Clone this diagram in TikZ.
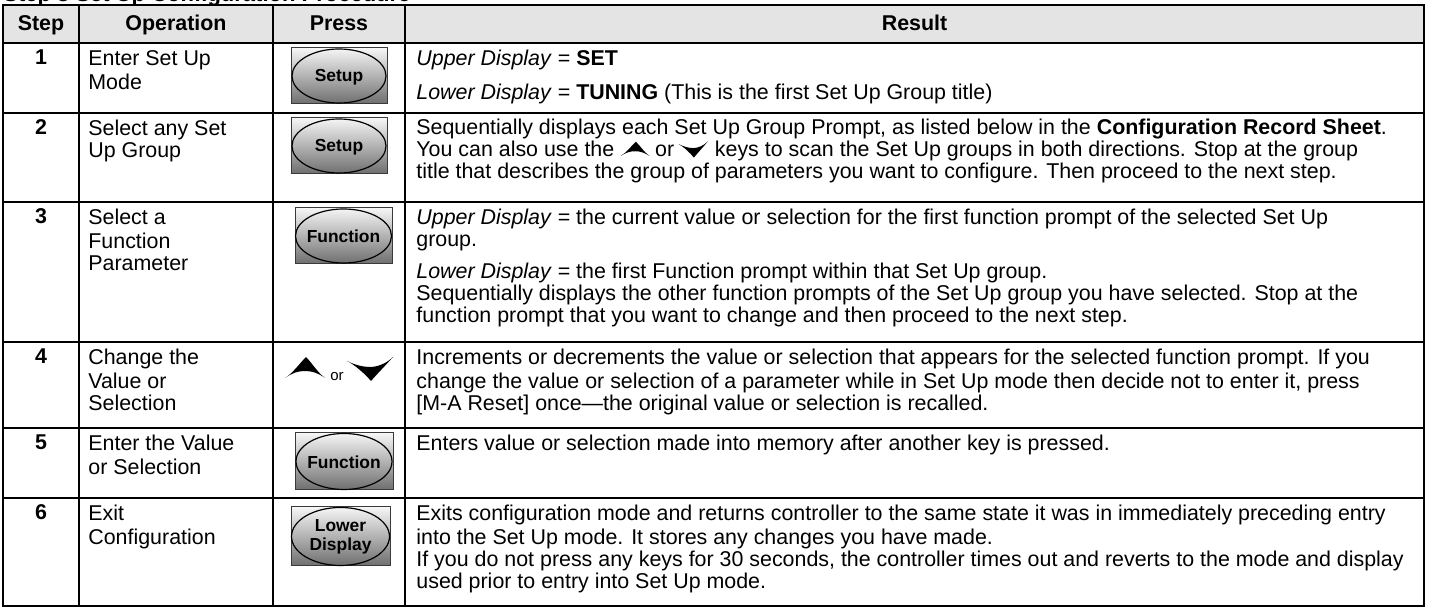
\documentclass[tikz,border=0pt]{standalone}
\usepackage{fontspec}
\setmainfont{Liberation Sans}
\usetikzlibrary{calc}
\definecolor{hdrgray}{HTML}{E4E4E4}
\definecolor{btntop}{HTML}{F6F6F6}
\definecolor{btnbot}{HTML}{6E6E6E}
\definecolor{btnedge}{HTML}{3A3A3A}
\tikzset{
  body/.style={font=\fontsize{10.7}{11}\selectfont, inner sep=0pt, align=left, anchor=north west},
  one/.style={font=\fontsize{10.7}{11}\selectfont, inner sep=0pt, anchor=base west},
  num/.style={font=\fontsize{10.7}{11}\selectfont\bfseries, inner sep=0pt, anchor=base},
  hd/.style={font=\fontsize{10.7}{12}\selectfont\bfseries, inner sep=0pt, anchor=base},
  keytext/.style={font=\fontsize{8.7}{9.7}\selectfont\bfseries, inner sep=0pt, align=center},
  gridline/.style={line width=1.2pt, black},
  btnbox/.style={top color=btntop, bottom color=btnbot, draw=btnedge, line width=0.5pt},
  btnoval/.style={draw=black, line width=0.6pt},
  uparrow/.pic={\fill[black] (0,0) .. controls (8,-5) and (15,-15) .. (21,-21) .. controls (27,-15) and (33,-5) .. (40,0) .. controls (33,-5) and (27,-7) .. (20,-7) .. controls (13,-7) and (7,-5) .. (0,0) -- cycle;},
  downarrow/.pic={\fill[black] (0,0) .. controls (8,4) and (16,6) .. (23,6) .. controls (31,6) and (40,2) .. (46,-4) .. controls (39,4) and (30,13) .. (24,20) .. controls (18,13) and (8,4) .. (0,0) -- cycle;}
}
\begin{document}
\begin{tikzpicture}[x=0.5pt,y=-0.5pt]
\useasboundingbox (0,0) rectangle (1432,608);
% clipped title (only its lowest edge shows)
\begin{scope}
\clip (0,0) rectangle (1432,5);
\node[font=\fontsize{11}{13}\selectfont\bfseries, inner sep=0pt, anchor=base west] (title) at (3,1.5) {Step 3 Set Up Configuration Procedure};
\end{scope}
% header
\fill[hdrgray] (3,5) rectangle (1424,43);
\node[hd] (hstep) at (41,31) {Step};
\node[hd] (hop) at (176,31) {Operation};
\node[hd] (hpress) at (339,31) {Press};
\node[hd] (hres) at (914.5,31) {Result};
% grid
\draw[gridline] (3,5) rectangle (1424,606);
\foreach \yy in {43,113,202,342,428,498} \draw[gridline] (3,\yy) -- (1424,\yy);
\foreach \xx in {79,273,405} \draw[gridline] (\xx,5) -- (\xx,606);
% step numbers
\node[num] (n1) at (41,65) {1};
\node[num] (n2) at (41,135) {2};
\node[num] (n3) at (41,224) {3};
\node[num] (n4) at (41,364) {4};
\node[num] (n5) at (41,450) {5};
\node[num] (n6) at (41,520) {6};
% operations
\node[body] (o1) at (88,49.6) {\strut Enter Set Up\\Mode};
\node[body] (o2) at (88,119.6) {\strut Select any Set\\Up Group};
\node[body] (o3) at (88,208.6) {\strut Select a\\Function\\Parameter};
\node[body] (o4) at (88,348.6) {\strut Change the\\Value or\\Selection};
\node[body] (o5) at (88,434.6) {\strut Enter the Value\\or Selection};
\node[body] (o6) at (88,504.6) {\strut Exit\\Configuration};
% buttons
\shade[btnbox] (291,48) rectangle (387,104);
\draw[btnoval] (339,76) ellipse [x radius=47, y radius=27];
\node[keytext] (k1) at (339,77) {Setup};
\shade[btnbox] (291,118) rectangle (387,174);
\draw[btnoval] (339,146) ellipse [x radius=47, y radius=27];
\node[keytext] (k2) at (339,147) {Setup};
\shade[btnbox] (295,208) rectangle (392,264);
\draw[btnoval] (343.5,236) ellipse [x radius=48, y radius=27];
\node[keytext] (k3) at (343.5,236) {Function};
\shade[btnbox] (295,433) rectangle (393,490);
\draw[btnoval] (344,461.5) ellipse [x radius=48, y radius=28];
\node[keytext] (k5) at (344,462) {Function};
\shade[btnbox] (291,507) rectangle (390,566);
\draw[btnoval] (340.5,536.5) ellipse [x radius=49, y radius=29];
\node[keytext] (k6) at (340.5,537) {Lower\\Display};
% row 4 arrows
\pic at (285,378) {uparrow};
\node[font=\fontsize{7.5}{8}\selectfont, inner sep=0pt, anchor=base west] (or4) at (330,381) {or};
\pic at (347,361) {downarrow};
% results
\node[body] (r1) at (416,49.6) {\strut\textit{Upper Display} = \textbf{SET}\\[5pt]\textit{Lower Display} = \textbf{TUNING} (This is the first Set Up Group title)};
\node[one] (r2a) at (416,135) {Sequentially displays each Set Up Group Prompt, as listed below in the \textbf{Configuration Record Sheet}.};
\node[one] (r2b) at (416,157) {You can also use the};
\pic[xscale=0.72, yscale=0.68] at ($(r2b.base east)+(6,-1)$) {uparrow};
\node[one] (r2or) at ($(r2b.base east)+(40,0)$) {or};
\pic[xscale=0.64, yscale=0.68] at ($(r2or.base east)+(4,-13)$) {downarrow};
\node[one] (r2c) at ($(r2or.base east)+(40,0)$) {keys to scan the Set Up groups in both directions. Stop at the group};
\node[one] (r2d) at (416,179) {title that describes the group of parameters you want to configure. Then proceed to the next step.};
\node[body] (r3) at (416,208.6) {\strut\textit{Upper Display} = the current value or selection for the first function prompt of the selected Set Up\\group.\\[5pt]\textit{Lower Display} = the first Function prompt within that Set Up group.\\Sequentially displays the other function prompts of the Set Up group you have selected. Stop at the\\function prompt that you want to change and then proceed to the next step.};
\node[body] (r4) at (416,348.6) {\strut Increments or decrements the value or selection that appears for the selected function prompt. If you\\change the value or selection of a parameter while in Set Up mode then decide not to enter it, press\\{[M-A Reset]} once\textemdash the original value or selection is recalled.};
\node[body] (r5) at (416,434.6) {\strut Enters value or selection made into memory after another key is pressed.};
\node[body] (r6) at (416,504.6) {\strut Exits configuration mode and returns controller to the same state it was in immediately preceding entry\\into the Set Up mode. It stores any changes you have made.\\If you do not press any keys for 30 seconds, the controller times out and reverts to the mode and display\\used prior to entry into Set Up mode.};
\end{tikzpicture}
\end{document}
